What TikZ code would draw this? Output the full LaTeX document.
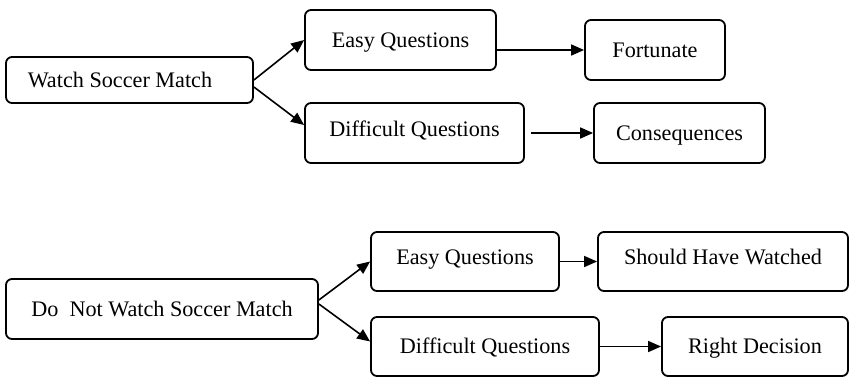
\documentclass[tikz,border=0pt]{standalone}
\usepackage{fontspec}
\setmainfont{Liberation Serif}
\usepackage{tikz}
\usetikzlibrary{calc,arrows.meta}

\begin{document}
\begin{tikzpicture}[x=0.5pt,y=-0.5pt,
    box/.style={draw,rounded corners=3pt,line width=0.9pt,inner sep=0pt,
      text height=7.3pt,text depth=0pt,font=\fontsize{11.1}{13}\selectfont},
    raised/.style={text depth=4pt},
    arr/.style={-{Triangle[length=6.5pt,width=5.5pt]},line width=0.8pt}]
              \useasboundingbox (0,0) rectangle (850,376);
              % top row
              \node[box,minimum width=123.5pt,minimum height=23pt](watch)at(129.5,80){Watch Soccer Match\hspace*{9.5pt}};
              \node[box,minimum width=95.5pt,minimum height=30pt](easyA)at(400.5,40){Easy Questions};
              \node[box,raised,minimum width=109.5pt,minimum height=30pt](diffA)at(414.5,133){Difficult Questions};
              \node[box,minimum width=70pt,minimum height=30pt](fort)at(655,50){Fortunate};
              \node[box,minimum width=85.5pt,minimum height=30pt](conseq)at(679.5,133){Consequences};
              \draw[arr](watch.east)--(easyA.west);
              \draw[arr]([yshift=-3.5pt]watch.east)--([yshift=4pt]diffA.west);
              \draw[arr](easyA.east |- fort.west)--(fort.west);
              \draw[arr]([xshift=3pt]diffA.east |- conseq.west)--(conseq.west);
              % bottom row
              \node[box,minimum width=156pt,minimum height=30pt](donot)at(162,309){Do~~Not Watch Soccer Match};
              \node[box,raised,minimum width=94pt,minimum height=29.5pt](easyB)at(465,261.5){Easy Questions};
              \node[box,minimum width=114pt,minimum height=29.5pt](diffB)at(485,346.5){Difficult Questions};
              \node[box,raised,minimum width=125pt,minimum height=29.5pt](should)at(723,261.5){Should Have Watched};
              \node[box,minimum width=93pt,minimum height=29.5pt](right)at(755,346.5){Right Decision};
              \draw[arr]([yshift=4.5pt]donot.east)--(easyB.west);
              \draw[arr]([yshift=2.5pt]donot.east)--([yshift=2.5pt]diffB.west);
              \draw[arr](easyB.east)--(should.west);
              \draw[arr]([xshift=-1pt]diffB.east)--(right.west);
            \end{tikzpicture}
\end{document}
